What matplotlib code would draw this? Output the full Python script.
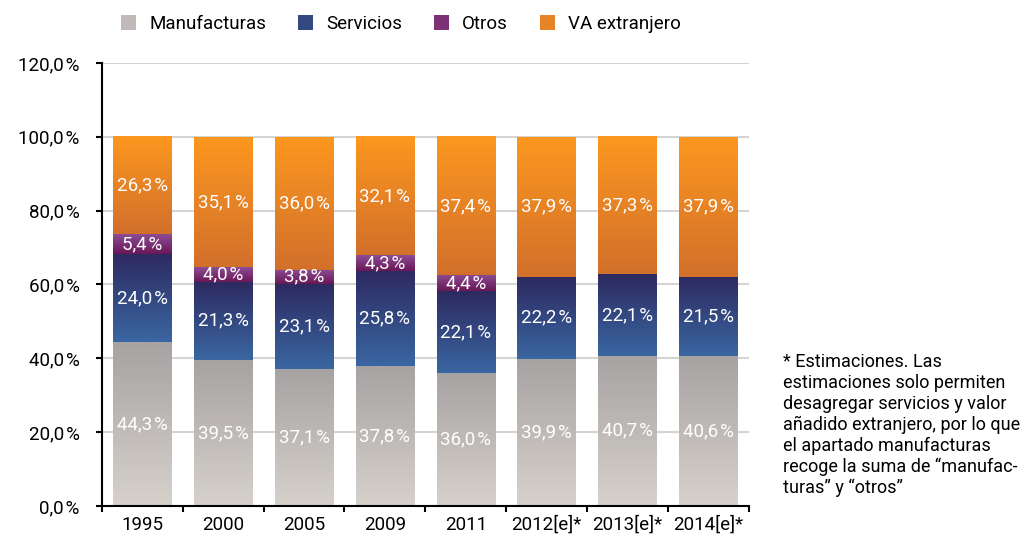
import numpy as np
import matplotlib.pyplot as plt
from matplotlib.colors import to_rgb
from matplotlib.patches import Patch

plt.rcParams['font.family'] = ['Roboto', 'DejaVu Sans']

# Data
years = ["1995", "2000", "2005", "2009", "2011", "2012[e]*", "2013[e]*", "2014[e]*"]
manufacturas = [44.3, 39.5, 37.1, 37.8, 36.0, 39.9, 40.7, 40.6]
servicios = [24.0, 21.3, 23.1, 25.8, 22.1, 22.2, 22.1, 21.5]
otros = [5.4, 4.0, 3.8, 4.3, 4.4, 0, 0, 0]
va_extranjero = [26.3, 35.1, 36.0, 32.1, 37.4, 37.9, 37.3, 37.9]

series = [
    ("Manufacturas", manufacturas, "#d6d1cb", "#a7a3a3"),
    ("Servicios", servicios, "#3a66a1", "#2d2a60"),
    ("Otros", otros, "#6a1757", "#8c4d94"),
    ("VA extranjero", va_extranjero, "#d2702b", "#fc971f"),
]

note = ("* Estimaciones. Las\nestimaciones solo permiten\ndesagregar servicios y valor\n"
        "añadido extranjero, por lo que\nel apartado manufacturas\n"
        "recoge la suma de “manufac-\nturas” y “otros”")


def fmt(v, sep="\u200a"):
    return f"{v:.1f}".replace(".", ",") + sep + "%"


fig = plt.figure(figsize=(10.31, 5.36), dpi=100)
ax = fig.add_axes([0.099, 0.056, 0.627, 0.8265])

x = np.arange(len(years))
bottom = np.zeros(len(years))
handles = []
for name, vals, c_bot, c_top in series:
    vals = np.array(vals, dtype=float)
    bars = ax.bar(x, vals, 0.72, bottom=bottom, color="none", zorder=2)
    grad = np.linspace(0, 1, 64)[:, None, None]
    img = (1 - grad) * np.array(to_rgb(c_bot)) + grad * np.array(to_rgb(c_top))
    for b, v in zip(bars, vals):
        if v <= 0:
            continue
        x0, y0, w, h = b.get_x(), b.get_y(), b.get_width(), b.get_height()
        ax.imshow(img, extent=(x0, x0 + w, y0, y0 + h), origin="lower",
                  aspect="auto", zorder=2, interpolation="bilinear")
        ax.text(x0 + w / 2, y0 + h / 2, fmt(v), ha="center", va="center",
                color="white", fontsize=13.5, zorder=3)
    mid = tuple((np.array(to_rgb(c_bot)) + np.array(to_rgb(c_top))) / 2)
    handles.append(Patch(facecolor=mid, label=name))
    bottom += vals

ax.set_xlim(-0.5, len(years) - 0.5)
ax.set_ylim(0, 120)
ax.set_yticks(np.arange(0, 121, 20))
ax.set_yticklabels([fmt(v) for v in np.arange(0, 121, 20)], fontsize=13.5)
ax.set_xticks(x)
ax.set_xticklabels(years, fontsize=13.5)
ax.set_xticks(np.arange(-0.5, len(years), 1), minor=True)
ax.tick_params(axis="x", which="major", length=0, pad=7)
ax.tick_params(axis="x", which="minor", length=4, width=1.5, direction="out")
ax.tick_params(axis="y", length=4, width=1.5, direction="out", pad=12)
ax.yaxis.grid(True, color="#d4d4d4", lw=1.5, zorder=0)
ax.set_axisbelow(True)
for s in ["top", "right"]:
    ax.spines[s].set_visible(False)
for s in ["left", "bottom"]:
    ax.spines[s].set_linewidth(1.5)

fig.legend(handles=handles, loc="center", bbox_to_anchor=(0.389, 0.955), ncol=4,
           frameon=False, fontsize=13.5, handlelength=0.8, handleheight=0.8,
           columnspacing=1.7, handletextpad=0.7)

fig.text(0.759, 0.207, note, fontsize=13, ha="left", va="center", linespacing=1.2)

fig.savefig("out.png", dpi=100)
